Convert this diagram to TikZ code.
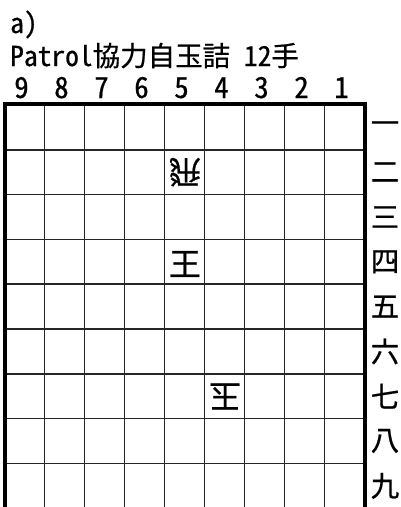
\documentclass[tikz,border=0pt]{standalone}
\usepackage{fontspec}
\setmainfont{Noto Sans CJK JP}[RawFeature=+hwid, BoldFont=Noto Sans CJK JP, BoldFeatures={FakeBold=0.6}]
\begin{document}
\begin{tikzpicture}[x=1pt,y=-1pt,
  gridline/.style={line width=1.7pt, black!85},
  frame/.style={line width=4pt, black, line join=miter},
  title/.style={inner sep=0pt, font=\fontsize{27.5}{27.5}\selectfont\bfseries},
  colnum/.style={inner sep=0pt, font=\fontsize{29}{29}\selectfont\bfseries},
  rownum/.style={inner sep=0pt, font=\fontsize{28.5}{28.5}\selectfont\bfseries},
  piece/.style={inner sep=0pt, font=\fontsize{32}{32}\selectfont\bfseries}]
\useasboundingbox (0,0) rectangle (401,507);
\clip (0,0) rectangle (401,507);
% grid
\foreach \i in {1,...,8} \draw[gridline] (4.5+40*\i,105) -- (4.5+40*\i,520);
\foreach \j in {1,...,8} \draw[gridline] (4.5,105+44.8*\j) -- (365,105+44.8*\j);
\draw[frame] (4.5,520) -- (4.5,104) -- (365,104) -- (365,520);
% titles
\node[title, anchor=base west] (lab) at (10,33) {a)};
\node[title, anchor=base west] (ttl) at (10,66) {Patrol協力自玉詰 12手};
% column numbers
\foreach \n [count=\k] in {9,8,7,6,5,4,3,2,1}
  \node[colnum, anchor=base] (c\n) at (21.5+40*\k-40,98) {\n};
% row numbers
\foreach \r [count=\k] in {一,二,三,四,五,六,七,八,九}
  \node[rownum] (r\k) at (385,127.4+44.8*\k-44.8) {\r};
% pieces
\node[piece, rotate=180] (hi) at (185,172) {飛};
\node[piece] (ou) at (185,264) {王};
\node[piece, rotate=180] (gy) at (225,396.5) {玉};
\end{tikzpicture}
\end{document}
